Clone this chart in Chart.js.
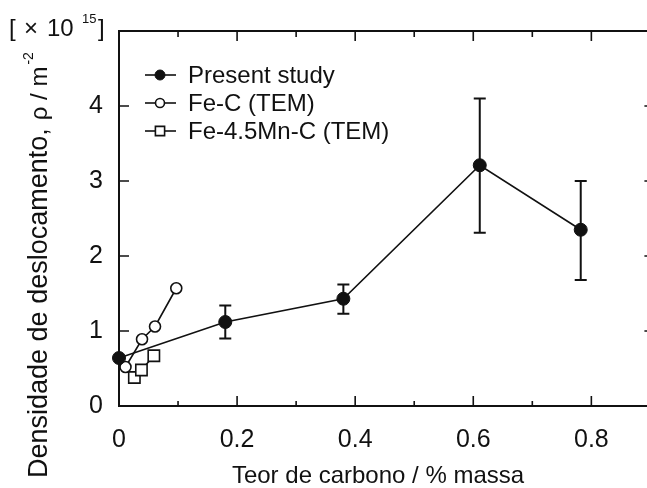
<!DOCTYPE html>
<html>
<head>
<meta charset="utf-8">
<script src="https://cdn.jsdelivr.net/npm/chart.js@4.4.0/dist/chart.umd.min.js"></script>
<style>
  html, body { margin: 0; padding: 0; background: #fff; overflow: hidden; }
  #wrap { position: relative; width: 660px; height: 488px; }
</style>
</head>
<body>
<div id="wrap"><canvas id="chart_dislocationDensity"></canvas></div>
<script>
// dislocation density (x10^15 m^-2) against carbon content (mass %)
var presentX = [0, 0.18, 0.38, 0.611, 0.782];
var presentY = [0.64, 1.12, 1.43, 3.21, 2.35];
var presentLow = [null, 0.90, 1.23, 2.31, 1.68];
var presentHigh = [null, 1.34, 1.62, 4.10, 3.00];

var feCX = [0.011, 0.039, 0.061, 0.097];
var feCY = [0.52, 0.89, 1.06, 1.57];

var feMnCX = [0.026, 0.038, 0.059];
var feMnCY = [0.38, 0.48, 0.67];

var seriesLabels = ['Present study', 'Fe-C (TEM)', 'Fe-4.5Mn-C (TEM)'];
var xTicks = [0, 0.2, 0.4, 0.6, 0.8];
var xMinorTicks = [0.1, 0.3, 0.5, 0.7];
var yTicks = [0, 1, 2, 3, 4];

var FONT = '"Liberation Sans", Arial, Helvetica, sans-serif';
var INK = '#111111';

function pts(xs, ys) {
    return xs.map(function (x, i) { return { x: x, y: ys[i] }; });
}

var frameAndNotes = {
    id: 'frameAndNotes',
    beforeDatasetsDraw: function (chart) {
        var ctx = chart.ctx, sx = chart.scales.x, sy = chart.scales.y;
        ctx.save();
        ctx.strokeStyle = INK;
        ctx.lineWidth = 2;
        presentX.forEach(function (x, i) {
            if (presentLow[i] == null) return;
            var px = sx.getPixelForValue(x);
            var lo = sy.getPixelForValue(presentLow[i]);
            var hi = sy.getPixelForValue(presentHigh[i]);
            ctx.beginPath();
            ctx.moveTo(px, lo); ctx.lineTo(px, hi);
            ctx.moveTo(px - 6, lo); ctx.lineTo(px + 6, lo);
            ctx.moveTo(px - 6, hi); ctx.lineTo(px + 6, hi);
            ctx.stroke();
        });
        ctx.restore();
    },
    afterDraw: function (chart) {
        var ctx = chart.ctx, a = chart.chartArea;
        var sx = chart.scales.x, sy = chart.scales.y;
        ctx.save();
        ctx.strokeStyle = INK;
        ctx.fillStyle = INK;

        // box round the plot
        ctx.lineWidth = 2;
        ctx.strokeRect(a.left, a.top, a.right - a.left, a.bottom - a.top);

        // inward ticks
        ctx.lineWidth = 1.6;
        ctx.beginPath();
        xTicks.forEach(function (v) {
            if (v === 0) return;
            var p = sx.getPixelForValue(v);
            ctx.moveTo(p, a.bottom); ctx.lineTo(p, a.bottom - 10);
            ctx.moveTo(p, a.top); ctx.lineTo(p, a.top + 10);
        });
        xMinorTicks.forEach(function (v) {
            var p = sx.getPixelForValue(v);
            ctx.moveTo(p, a.bottom); ctx.lineTo(p, a.bottom - 5);
            ctx.moveTo(p, a.top); ctx.lineTo(p, a.top + 6);
        });
        yTicks.forEach(function (v) {
            if (v === 0) return;
            var p = sy.getPixelForValue(v);
            ctx.moveTo(a.left, p); ctx.lineTo(a.left + 10, p);
            ctx.moveTo(a.right, p); ctx.lineTo(a.right - 6, p);
        });
        ctx.stroke();

        // legend: line through the marker, then the label
        ctx.font = '24px ' + FONT;
        ctx.textBaseline = 'middle';
        ctx.textAlign = 'left';
        var legendRadius = [5, 4.5, 6.5];
        chart.data.datasets.forEach(function (ds, i) {
            var y = 75 + i * 28;
            ctx.lineWidth = ds.borderWidth;
            ctx.beginPath();
            ctx.moveTo(145, y); ctx.lineTo(176, y);
            ctx.stroke();
            ctx.fillStyle = ds.pointBackgroundColor;
            ctx.strokeStyle = ds.pointBorderColor;
            ctx.lineWidth = ds.pointBorderWidth;
            Chart.helpers.drawPoint(ctx, {
                pointStyle: ds.pointStyle, rotation: 0,
                radius: legendRadius[i], borderWidth: ds.pointBorderWidth
            }, 160, y);
            ctx.fillStyle = INK;
            ctx.strokeStyle = INK;
            ctx.fillText(ds.label, 188, y + 1);
        });

        // x axis title
        ctx.font = '24px ' + FONT;
        ctx.textAlign = 'center';
        ctx.fillText('Teor de carbono / % massa', 378, 476);

        // y axis title, read bottom to top
        ctx.save();
        ctx.translate(47, 478);
        ctx.rotate(-Math.PI / 2);
        ctx.textAlign = 'left';
        ctx.textBaseline = 'alphabetic';
        ctx.font = '27px ' + FONT;
        var main = 'Densidade de deslocamento,';
        ctx.fillText(main, 0, 0);
        var w = ctx.measureText(main).width;
        ctx.font = '24px ' + FONT;
        ctx.fillText('\u03c1 / m', w + 8, 0);
        w += 8 + ctx.measureText('\u03c1 / m').width;
        ctx.font = '14px ' + FONT;
        ctx.fillText('-2', w + 2, -14);
        ctx.restore();

        // unit multiplier above the y axis
        ctx.textAlign = 'left';
        ctx.textBaseline = 'alphabetic';
        ctx.font = '24px ' + FONT;
        ctx.fillText('[', 9, 36);
        ctx.fillText('\u00d7', 24, 36);
        ctx.fillText('10', 47, 36);
        ctx.font = '13px ' + FONT;
        ctx.fillText('15', 82, 23);
        ctx.font = '24px ' + FONT;
        ctx.fillText(']', 98, 36);

        ctx.restore();
    }
};

var chart_dislocationDensity = new Chart(document.getElementById('chart_dislocationDensity'), {
    type: 'scatter',
    data: {
        datasets: [
            {
                label: seriesLabels[0],
                data: pts(presentX, presentY),
                showLine: true,
                clip: false,
                borderColor: INK,
                borderWidth: 1.6,
                pointStyle: 'circle',
                pointRadius: 6.5,
                pointBackgroundColor: INK,
                pointBorderColor: INK,
                pointBorderWidth: 1
            },
            {
                label: seriesLabels[1],
                data: pts(feCX, feCY),
                showLine: true,
                clip: false,
                borderColor: INK,
                borderWidth: 1.6,
                pointStyle: 'circle',
                pointRadius: 5.5,
                pointBackgroundColor: '#ffffff',
                pointBorderColor: INK,
                pointBorderWidth: 1.6
            },
            {
                label: seriesLabels[2],
                data: pts(feMnCX, feMnCY),
                showLine: true,
                clip: false,
                borderColor: INK,
                borderWidth: 1.6,
                pointStyle: 'rect',
                pointRadius: 8,
                pointBackgroundColor: '#ffffff',
                pointBorderColor: INK,
                pointBorderWidth: 1.6
            }
        ]
    },
    options: {
        animation: false,
        responsive: true,
        maintainAspectRatio: false,
        events: [],
        layout: { padding: { top: 25, right: 6, left: 0, bottom: 0 } },
        plugins: {
            legend: { display: false },
            title: { display: false },
            tooltip: { enabled: false }
        },
        scales: {
            x: {
                type: 'linear',
                min: 0,
                max: 0.9,
                afterBuildTicks: function (s) { s.ticks = xTicks.map(function (v) { return { value: v }; }); },
                afterFit: function (s) { s.height = 82; },
                grid: { display: false, drawTicks: false },
                border: { display: false },
                ticks: {
                    padding: 19,
                    color: INK,
                    font: { family: FONT, size: 25 },
                    maxRotation: 0,
                    callback: function (v) { return String(v); }
                }
            },
            y: {
                type: 'linear',
                min: 0,
                max: 5,
                afterBuildTicks: function (s) { s.ticks = yTicks.map(function (v) { return { value: v }; }); },
                afterFit: function (s) { s.width = 119; },
                grid: { display: false, drawTicks: false },
                border: { display: false },
                ticks: {
                    padding: 16,
                    color: INK,
                    font: { family: FONT, size: 25 },
                    callback: function (v) { return String(v); }
                }
            }
        }
    },
    plugins: [frameAndNotes]
});
</script>
</body>
</html>
